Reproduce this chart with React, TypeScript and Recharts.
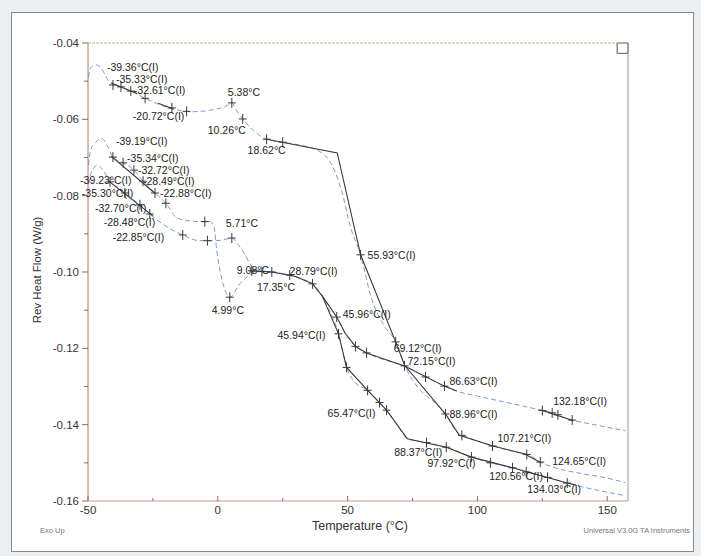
import React from 'react';
import { ComposedChart, Line, Scatter, XAxis, YAxis, ReferenceLine, ReferenceArea } from 'recharts';

// sample 1 (top curve): rev heat flow data
const tempA = [-49.8, -49, -47, -45, -42, -40, -37, -33, -28, -23, -18, -14, -10, -5, 0, 3, 5.4, 7, 9.6, 13, 18.8, 25, 32, 38, 42, 45, 48, 51, 55, 59, 64, 68.5, 72, 78, 84, 88, 92, 97, 106, 115, 120, 124.2, 130, 140, 150, 157];
const flowA = [-0.049, -0.0465, -0.0457, -0.0465, -0.05, -0.051, -0.0516, -0.0527, -0.0545, -0.056, -0.0572, -0.0578, -0.058, -0.0578, -0.0572, -0.0566, -0.0557, -0.0575, -0.0599, -0.0625, -0.0652, -0.066, -0.0668, -0.068, -0.07, -0.0735, -0.0795, -0.088, -0.0955, -0.1065, -0.114, -0.1183, -0.1245, -0.131, -0.1345, -0.1375, -0.1418, -0.1435, -0.1456, -0.1472, -0.148, -0.1498, -0.1513, -0.1528, -0.154, -0.1552];
// tangent lines drawn by the analysis (null = gap)
const fitTempA = [-41, -31, -30, -23, -17, -16, 18.8, 46, 55, 68.5, 72, 88, 93, 106, 118, 124.5];
const fitFlowA = [-0.0505, -0.0533, null, -0.0558, -0.0573, null, -0.0652, -0.0688, -0.0955, -0.1183, -0.1245, -0.1375, -0.1428, -0.1456, -0.1476, -0.15];

// sample 2
const tempB = [-49.8, -49, -47, -44.6, -42.5, -40.4, -36.5, -32.3, -28.8, -24.2, -20, -15.8, -11, -7, -3, -1.5, -0.4, 2, 4.6, 8.5, 12.3, 15, 20.8, 27.7, 33, 36.5, 40, 43, 45.8, 49, 53, 57.3, 64, 71.9, 80, 87.3, 92, 100, 110, 120, 128.8, 135, 145, 157];
const flowB = [-0.072, -0.068, -0.066, -0.065, -0.067, -0.0699, -0.0714, -0.0733, -0.0762, -0.0793, -0.082, -0.0858, -0.0866, -0.0868, -0.0868, -0.088, -0.0944, -0.103, -0.1066, -0.1031, -0.1008, -0.0997, -0.1, -0.1008, -0.102, -0.1031, -0.106, -0.109, -0.1118, -0.116, -0.1195, -0.1212, -0.123, -0.1246, -0.1275, -0.1299, -0.1312, -0.1325, -0.134, -0.1355, -0.1369, -0.1385, -0.14, -0.1416];
const fitTempB = [-41, -24, -23, 13, 20.8, 30, 36.5, 41, 45.8, 49, 53, 57.3, 71.9, 87.3, 92, 93, 125, 137];
const fitFlowB = [-0.0697, -0.0795, null, -0.0997, -0.1, -0.1012, -0.1031, -0.107, -0.1118, -0.116, -0.1195, -0.1212, -0.1246, -0.1299, -0.1312, null, -0.1363, -0.139];

// sample 3
const tempC = [-49.8, -49, -47.5, -46.5, -44, -41.5, -38, -35.8, -30, -26.2, -20, -13.5, -7, -2, 2, 5.4, 8, 9.6, 13, 16, 20.8, 27.7, 33, 36.5, 40, 43, 46.5, 49.6, 53, 57.7, 62.3, 65, 69, 73, 80.4, 88, 97.7, 105, 113.5, 118.8, 127, 134.6, 145, 157];
const flowC = [-0.077, -0.0745, -0.0725, -0.072, -0.0735, -0.0764, -0.078, -0.0793, -0.0824, -0.0848, -0.088, -0.0903, -0.0918, -0.0918, -0.0916, -0.0911, -0.093, -0.0945, -0.0984, -0.0997, -0.1, -0.1008, -0.102, -0.1031, -0.106, -0.11, -0.1162, -0.125, -0.129, -0.131, -0.1342, -0.1362, -0.14, -0.1437, -0.1447, -0.1459, -0.1485, -0.15, -0.1513, -0.1524, -0.1538, -0.1553, -0.157, -0.1586];
const fitTempC = [-42, -25, -24, 40, 46.5, 49.6, 57.7, 65, 73, 88, 97.7, 113.5, 134.6, 138];
const fitFlowC = [-0.0762, -0.0853, null, -0.106, -0.1162, -0.125, -0.131, -0.1362, -0.1437, -0.1459, -0.1485, -0.1513, -0.1553, -0.1558];

// analysis markers and their labels
const markText = [
  '-39.36°C(I)', '-35.33°C(I)', '-32.61°C(I)', '-20.72°C(I)', '5.38°C', '10.26°C', '18.62°C', '55.93°C(I)', '69.12°C(I)', '88.96°C(I)', '107.21°C(I)', '124.65°C(I)',
  '-39.19°C(I)', '-35.34°C(I)', '-32.72°C(I)', '-28.49°C(I)', '-22.88°C(I)', '4.99°C', '9.08°C', '17.35°C', '28.79°C(I)', '45.96°C(I)', '72.15°C(I)', '86.63°C(I)', '132.18°C(I)',
  '-39.23°C(I)', '-35.30°C(I)', '-32.70°C(I)', '-28.48°C(I)', '-22.85°C(I)', '5.71°C', '45.94°C(I)', '65.47°C(I)', '88.37°C(I)', '97.92°C(I)', '120.56°C(I)', '134.03°C(I)',
];
const markTemp = [
  -40.4, -37.3, -33.5, -17.7, 5.4, 9.6, 18.8, 55, 68.5, 87.7, 105.8, 124.2,
  -40.4, -36.5, -32.3, -28.8, -24.2, 4.6, 13.1, 17, 36.5, 45.8, 71.9, 87.3, 128.8,
  -41.5, -35.8, -30, -26.2, -13.5, 5.4, 46.5, 65, 88, 97.7, 118.8, 134.6,
];
const markFlow = [
  -0.051, -0.0515, -0.0526, -0.057, -0.0557, -0.0599, -0.0652, -0.0955, -0.1183, -0.1372, -0.1456, -0.1498,
  -0.0699, -0.0714, -0.0733, -0.0762, -0.0793, -0.1066, -0.0997, -0.0999, -0.1031, -0.1118, -0.1246, -0.1299, -0.1369,
  -0.0764, -0.0793, -0.0824, -0.0848, -0.0903, -0.0911, -0.1162, -0.1362, -0.1459, -0.1485, -0.1524, -0.1553,
];
// label offset from marker, px [dx, dy]
const labelOffsets = [
  [-6, -18], [-5, -8], [3, -1], [-39, 8], [-4, -11], [-35, 11], [-19, 11], [7, 0], [-2, 6], [4, 0], [5, -8], [12, -1],
  [3, -16], [4, -5], [4, 0], [0, 0], [5, 0], [-18, 13], [-15, -1], [-5, 15], [-23, -13], [6, -3], [3, -5], [5, -5], [1, -12],
  [-30, -2], [-43, 0], [-45, 3], [-46, 8], [-70, 2], [-6, -15], [-61, 1], [-59, 3], [-52, 5], [-44, 6], [-37, 4], [-40, 6],
];
// extra unlabeled tick marks on the curves
const extraTemp = [-28, -12, 25, -20, -5, -4, 20.8, 27.7, 53, 57.3, 80, 125, 131, 136.5, 49.6, 57.7, 62.3, 80.4, 105, 113.5, 127, 94, 119];
const extraFlow = [-0.0545, -0.0579, -0.066, -0.082, -0.0868, -0.0918, -0.1, -0.1008, -0.1195, -0.1212, -0.1275, -0.1363, -0.1374, -0.1388, -0.125, -0.131, -0.1342, -0.1447, -0.15, -0.1513, -0.1538, -0.1428, -0.1478];

const xTicks = [-50, -25, 0, 25, 50, 75, 100, 125, 150];
const yTicks = [-0.16, -0.15, -0.14, -0.13, -0.12, -0.11, -0.1, -0.09, -0.08, -0.07, -0.06, -0.05, -0.04];

const toRows = (ts: number[], vs: (number | null)[]) => ts.map((t, i) => ({ t, v: vs[i] }));

const dataA = toRows(tempA, flowA);
const dataB = toRows(tempB, flowB);
const dataC = toRows(tempC, flowC);
const fitA = toRows(fitTempA, fitFlowA);
const fitB = toRows(fitTempB, fitFlowB);
const fitC = toRows(fitTempC, fitFlowC);
const marks = markTemp.map((t, i) => ({ t, v: markFlow[i], text: markText[i], dx: labelOffsets[i][0], dy: labelOffsets[i][1] }));
const extras = toRows(extraTemp, extraFlow);

const BLUE = '#7d9bd0';
const DARK = '#3a3a3a';
const FONT = '"Liberation Sans", Arial, sans-serif';

const Plus = (p: any) => {
  const { cx, cy, payload } = p;
  return (
    <g>
      <path d={`M${cx - 4},${cy}H${cx + 4}M${cx},${cy - 5}V${cy + 5}`} stroke={DARK} strokeWidth={1} />
      {payload.text ? (
        <text x={cx + payload.dx} y={cy + payload.dy} dominantBaseline="central" fontSize={10.5} fill="#222" fontFamily={FONT}>
          {payload.text}
        </text>
      ) : null}
    </g>
  );
};

const YTick = (p: any) => {
  const { x, y, payload, index } = p;
  const major = index % 2 === 0;
  return (
    <g>
      <line x1={x - (major ? 6 : 4)} x2={x} y1={y} y2={y} stroke="#8a6a5e" />
      {major && (
        <text x={x - 9} y={y} textAnchor="end" dominantBaseline="central" fontSize={11.5} fill="#333" fontFamily={FONT}>
          {payload.value.toFixed(2)}
        </text>
      )}
    </g>
  );
};

const XTick = (p: any) => {
  const { x, y, payload, index } = p;
  const major = index % 2 === 0;
  return (
    <g>
      <line x1={x} x2={x} y1={y - (major ? 5 : 3)} y2={y} stroke="#8a6a5e" />
      {major && (
        <text x={x} y={y + 9} textAnchor="middle" dominantBaseline="central" fontSize={11.5} fill="#333" fontFamily={FONT}>
          {payload.value}
        </text>
      )}
    </g>
  );
};

export default function App() {
  return (
    <div style={{ position: 'absolute', left: 0, top: 0, width: 701, height: 556, background: '#eceef1', overflow: 'hidden' }}>
      <div style={{ position: 'absolute', left: 11, top: 12, width: 681, height: 538, background: '#fff', border: '1px solid #8a8a8a' }} />
      <div style={{ position: 'absolute', left: 0, top: 0 }}>
        <ComposedChart width={701} height={556} margin={{ top: 43, right: 73, bottom: 25, left: 38 }} style={{ fontFamily: FONT }}>
          <XAxis
            type="number"
            dataKey="t"
            domain={[-50, 158]}
            ticks={xTicks}
            height={30}
            tickSize={0}
            tickMargin={0}
            tickLine={false}
            tick={<XTick />}
            stroke="#c79a8a"
          />
          <YAxis
            type="number"
            dataKey="v"
            domain={[-0.16, -0.04]}
            ticks={yTicks}
            width={50}
            tickSize={0}
            tickMargin={0}
            tickLine={false}
            tick={<YTick />}
            stroke="#a87a6c"
          />
          <ReferenceLine y={-0.04} stroke="#a9bf84" strokeDasharray="3 1" />
          <ReferenceLine x={158} stroke="#9a9a9a" />
          <ReferenceArea x1={153.8} x2={158} y1={-0.0427} y2={-0.04} fill="none" stroke="#555" />
          <Line data={dataA} dataKey="v" type="monotone" stroke={BLUE} strokeWidth={1} strokeDasharray="5 3" dot={false} isAnimationActive={false} />
          <Line data={dataB} dataKey="v" type="monotone" stroke={BLUE} strokeWidth={1} strokeDasharray="5 3" dot={false} isAnimationActive={false} />
          <Line data={dataC} dataKey="v" type="monotone" stroke={BLUE} strokeWidth={1} strokeDasharray="5 3" dot={false} isAnimationActive={false} />
          <Line data={fitA} dataKey="v" type="linear" stroke={DARK} strokeWidth={1.1} dot={false} isAnimationActive={false} />
          <Line data={fitB} dataKey="v" type="linear" stroke={DARK} strokeWidth={1.1} dot={false} isAnimationActive={false} />
          <Line data={fitC} dataKey="v" type="linear" stroke={DARK} strokeWidth={1.1} dot={false} isAnimationActive={false} />
          <Scatter data={extras} dataKey="v" shape={<Plus />} isAnimationActive={false} />
          <Scatter data={marks} dataKey="v" shape={<Plus />} isAnimationActive={false} />
        </ComposedChart>
      </div>
      <div style={{ position: 'absolute', left: 37, top: 270, transform: 'translate(-50%, -50%) rotate(-90deg)', whiteSpace: 'nowrap', fontFamily: FONT, fontSize: 11.5, color: '#333' }}>
        Rev Heat Flow (W/g)
      </div>
      <div style={{ position: 'absolute', left: 360, top: 526, transform: 'translate(-50%, -50%)', whiteSpace: 'nowrap', fontFamily: FONT, fontSize: 12.5, color: '#333' }}>
        Temperature (°C)
      </div>
      <div style={{ position: 'absolute', left: 40, top: 526, whiteSpace: 'nowrap', fontFamily: FONT, fontSize: 7.5, color: '#777' }}>
        Exo Up
      </div>
      <div style={{ position: 'absolute', right: 11, top: 526, whiteSpace: 'nowrap', fontFamily: FONT, fontSize: 7.5, color: '#777' }}>
        Universal V3.0G TA Instruments
      </div>
    </div>
  );
}
